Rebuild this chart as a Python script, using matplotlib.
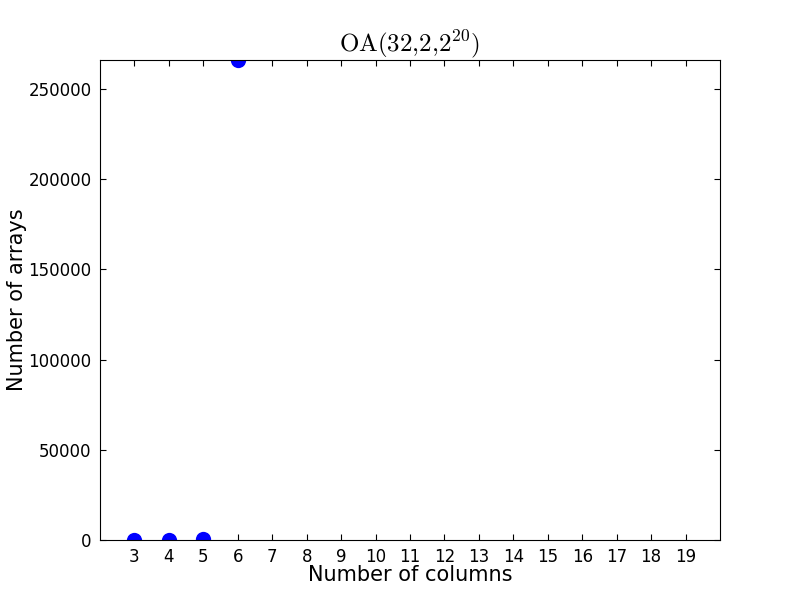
import matplotlib
matplotlib.use("Agg")
import matplotlib.pyplot as plt

# number of columns and number of arrays found
columns = [3, 4, 5, 6]
arrays = [1, 10, 800, 266000]
xticks = list(range(3, 20))

plt.rcParams['mathtext.fontset'] = 'cm'
plt.rcParams['xtick.direction'] = 'in'
plt.rcParams['ytick.direction'] = 'in'
plt.rcParams['xtick.top'] = True
plt.rcParams['ytick.right'] = True
plt.rcParams['xtick.major.size'] = 4
plt.rcParams['ytick.major.size'] = 4

fig = plt.figure(figsize=(8, 6), dpi=100)
ax = fig.add_axes([0.125, 0.1, 0.775, 0.8])
ax.plot(columns, arrays, 'o', color='b', markersize=11, markeredgewidth=0)

ax.set_xlim(2, 20)
ax.set_ylim(0, max(arrays))
ax.set_xticks(xticks)
ax.set_yticks([0, 50000, 100000, 150000, 200000, 250000])
ax.tick_params(labelsize=12, pad=6)
ax.ticklabel_format(axis='y', style='plain', useOffset=False)
ax.set_xlabel("Number of columns", fontsize=15, labelpad=-1)
ax.set_ylabel("Number of arrays", fontsize=15, labelpad=1)
ax.set_title(r"$\mathrm{OA}(32{,}2{,}2^{20})$", fontsize=18, pad=3)

fig.savefig("out.png", dpi=100)
